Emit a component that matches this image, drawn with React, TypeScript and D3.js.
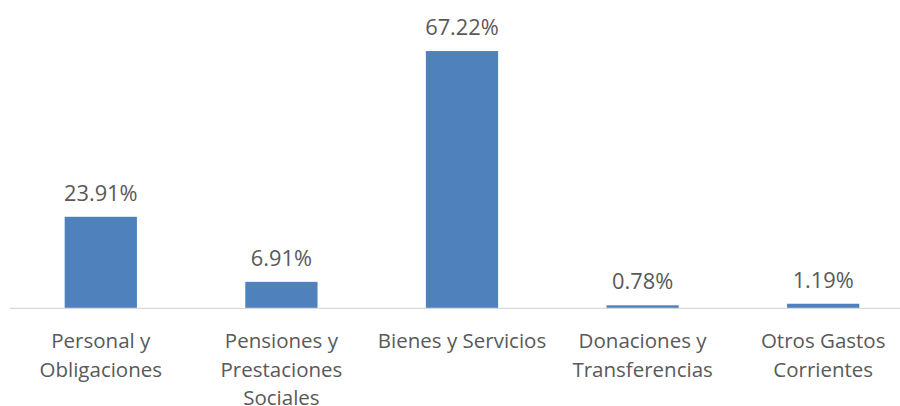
import React from "react";
import * as d3 from "d3";

const categories: string[][] = [
  ["Personal y", "Obligaciones"],
  ["Pensiones y", "Prestaciones", "Sociales"],
  ["Bienes y Servicios"],
  ["Donaciones y", "Transferencias"],
  ["Otros Gastos", "Corrientes"],
];
const values: number[] = [23.91, 6.91, 67.22, 0.78, 1.19];
const valueLabels: string[] = ["23.91%", "6.91%", "67.22%", "0.78%", "1.19%"];

const W = 900;
const H = 406;
const FONT = "'Open Sans', sans-serif";

export default function App() {
  const keys = categories.map((_, i) => String(i));
  const x = d3.scaleBand<string>().domain(keys).range([10.5, 913.5]).paddingInner(0.6).paddingOuter(0.3);
  const y = d3.scaleLinear().domain([0, 70]).range([308.3, 40.4]);
  const base = y(0);
  return (
    <svg width={W} height={H} style={{ position: "absolute", left: 0, top: 0, background: "#fff" }}>
      <rect x={0} y={0} width={W} height={H} fill="#fff" />
      {values.map((v, i) => (
        <rect key={"b" + i} x={x(keys[i])!} y={y(v)} width={x.bandwidth()} height={base - y(v)} fill="#4f81bd" />
      ))}
      <line x1={10} x2={W} y1={base} y2={base} stroke="#d9d9d9" strokeWidth={1.3} />
      {values.map((v, i) => (
        <text key={"v" + i} x={x(keys[i])! + x.bandwidth() / 2} y={y(v) - 16} textAnchor="middle"
          fontFamily={FONT} fontSize={21.8} fill="#595959">{valueLabels[i]}</text>
      ))}
      {categories.map((lines, i) => (
        <text key={"c" + i} textAnchor="middle" fontFamily={FONT} fontSize={20.5} fill="#595959">
          {lines.map((l, j) => (
            <tspan key={j} x={x(keys[i])! + x.bandwidth() / 2} y={348 + j * 28.5}>{l}</tspan>
          ))}
        </text>
      ))}
    </svg>
  );
}
